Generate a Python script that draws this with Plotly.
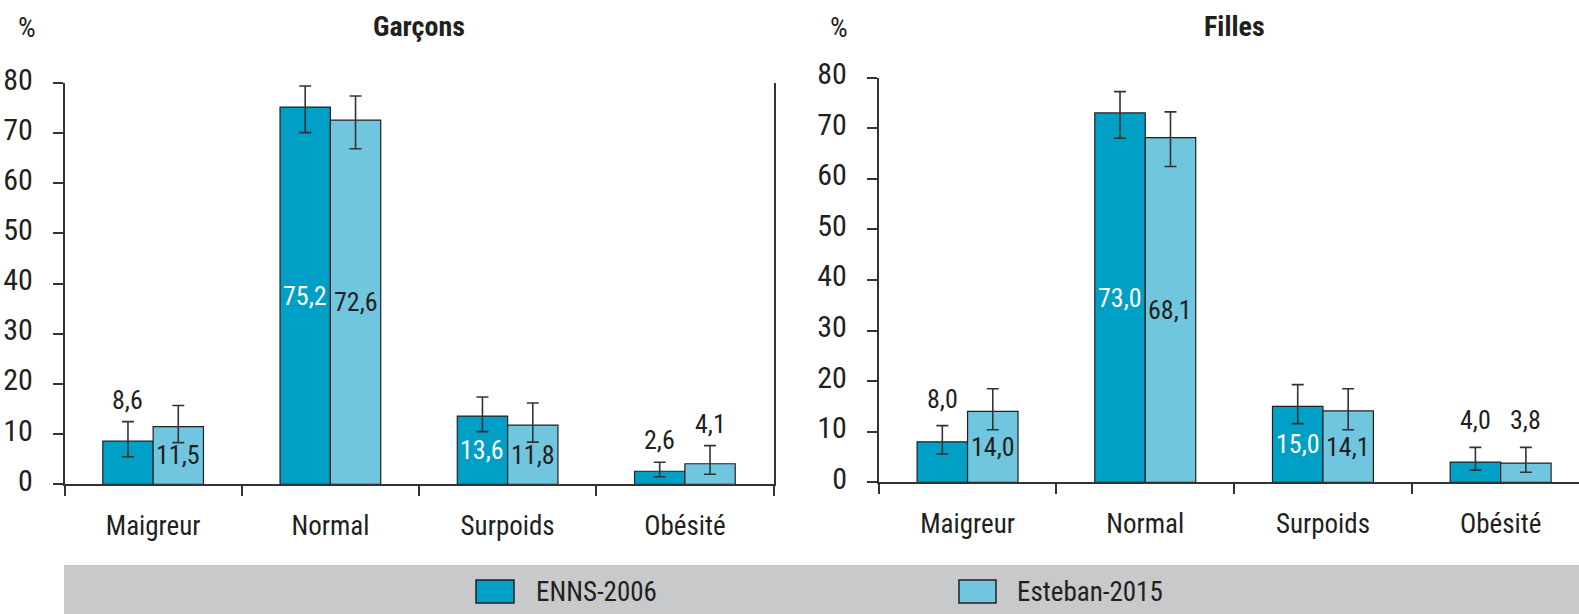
import plotly.graph_objects as go

# ---------------- data ----------------
categories = ["Maigreur", "Normal", "Surpoids", "Obésité"]
series_names = ["ENNS-2006", "Esteban-2015"]
panel_titles = ["Garçons", "Filles"]

garcons_enns = [8.6, 75.2, 13.6, 2.6]
garcons_enns_lo = [5.5, 70.1, 10.5, 1.5]
garcons_enns_hi = [12.5, 79.4, 17.4, 4.4]

garcons_esteban = [11.5, 72.6, 11.8, 4.1]
garcons_esteban_lo = [8.3, 66.9, 8.4, 2.0]
garcons_esteban_hi = [15.7, 77.4, 16.2, 7.7]

filles_enns = [8.0, 73.0, 15.0, 4.0]
filles_enns_lo = [5.6, 68.0, 11.6, 2.4]
filles_enns_hi = [11.2, 77.2, 19.3, 6.9]

filles_esteban = [14.0, 68.1, 14.1, 3.8]
filles_esteban_lo = [10.4, 62.4, 10.4, 2.0]
filles_esteban_hi = [18.5, 73.2, 18.5, 6.9]

y_ticks = [0, 10, 20, 30, 40, 50, 60, 70, 80]

# ---------------- style ----------------
W, H = 1579, 614
FONT = "Roboto Condensed, DejaVu Sans Condensed, sans-serif"
TXT = "#231f20"
AX = "#333333"
COLORS = ["#00a0c6", "#70c6df"]
BARGAP = 0.432
BARW = (1 - BARGAP) / 2
FS_LABEL = 26
FS_CAT = 27
FS_YTICK = 30
FS_TITLE = 28
FS_LEG = 27

def fmt(v):
    return f"{v:.1f}".replace(".", ",")

panels = [
    dict(title=panel_titles[0], xa="x", ya="y",
         series=[(garcons_enns, garcons_enns_lo, garcons_enns_hi),
                 (garcons_esteban, garcons_esteban_lo, garcons_esteban_hi)],
         above_shift=22),
    dict(title=panel_titles[1], xa="x2", ya="y2",
         series=[(filles_enns, filles_enns_lo, filles_enns_hi),
                 (filles_esteban, filles_esteban_lo, filles_esteban_hi)],
         above_shift=27),
]

fig = go.Figure()
annotations = []

for p in panels:
    for si, (vals, lo, hi) in enumerate(p["series"]):
        fig.add_trace(go.Bar(
            x=categories, y=vals, name=series_names[si],
            xaxis=p["xa"], yaxis=p["ya"],
            marker=dict(color=COLORS[si], line=dict(color=TXT, width=1.2)),
            error_y=dict(type="data", symmetric=False,
                         array=[h - v for h, v in zip(hi, vals)],
                         arrayminus=[v - l for v, l in zip(vals, lo)],
                         color=AX, thickness=1.6, width=6),
            showlegend=False,
        ))
        offset = (si - 0.5) * BARW
        for ci, v in enumerate(vals):
            if v >= 10:
                annotations.append(dict(
                    x=ci + offset, y=v / 2, xref=p["xa"], yref=p["ya"],
                    text=fmt(v), showarrow=False, xanchor="center", yanchor="middle",
                    font=dict(family=FONT, size=FS_LABEL,
                              color="#ffffff" if si == 0 else TXT)))
            else:
                annotations.append(dict(
                    x=ci + offset, y=hi[ci], xref=p["xa"], yref=p["ya"],
                    text=fmt(v), showarrow=False, xanchor="center", yanchor="middle",
                    yshift=p["above_shift"],
                    font=dict(family=FONT, size=FS_LABEL, color=TXT)))

# titles and % labels
def top_text(x_px, y_px, text, size):
    return dict(x=x_px / W, y=1 - y_px / H, xref="paper", yref="paper", text=text,
                showarrow=False, xanchor="center", yanchor="middle",
                font=dict(family=FONT, size=size, color=TXT))

annotations += [
    top_text(419, 26, "<b>" + panel_titles[0] + "</b>", FS_TITLE),
    top_text(1234, 26, "<b>" + panel_titles[1] + "</b>", FS_TITLE),
    top_text(27, 27, "%", FS_YTICK - 2),
    top_text(839, 27, "%", FS_YTICK - 2),
]

# legend band (manual)
shapes = [
    dict(type="rect", xref="paper", yref="paper", x0=64 / W, x1=1, y0=0, y1=1 - 565 / H,
         fillcolor="#c8c9cb", line=dict(width=0), layer="below"),
]
legend_items = [(476, 514, 534), (959, 996, 1015)]
for si, (bx0, bx1, tx) in enumerate(legend_items):
    shapes.append(dict(type="rect", xref="paper", yref="paper",
                       x0=bx0 / W, x1=bx1 / W, y0=1 - 603 / H, y1=1 - 580 / H,
                       fillcolor=COLORS[si], line=dict(color=TXT, width=1.5)))
    annotations.append(dict(x=tx / W, y=1 - 591.5 / H, xref="paper", yref="paper",
                            text=series_names[si], showarrow=False, xanchor="left",
                            yanchor="middle", font=dict(family=FONT, size=FS_LEG, color=TXT)))

xaxis_common = dict(type="category", showline=True, linecolor=AX, linewidth=1.5,
                    ticks="outside", tickson="boundaries", ticklen=10, tickwidth=1.5,
                    tickcolor=AX, showgrid=False, zeroline=False, automargin=False,
                    tickfont=dict(family=FONT, size=FS_CAT, color=TXT), ticklabelstandoff=17)
yaxis_common = dict(range=[0, 80], tickvals=y_ticks, showline=True, linecolor=AX,
                    linewidth=1.5, ticks="outside", ticklen=10, tickwidth=1.5, tickcolor=AX,
                    showgrid=False, zeroline=False, automargin=False,
                    tickfont=dict(family=FONT, size=FS_YTICK, color=TXT),
                    ticklabelstandoff=14, ticklabelshift=-4)

fig.update_layout(
    width=W, height=H, margin=dict(l=0, r=0, t=0, b=0, pad=0, autoexpand=False),
    paper_bgcolor="white", plot_bgcolor="white", showlegend=False,
    barmode="group", bargap=BARGAP, bargroupgap=0,
    xaxis=dict(xaxis_common, domain=[64.5 / W, 773.5 / W], range=[-0.5, 3.5], anchor="y"),
    xaxis2=dict(xaxis_common, domain=[878.7 / W, 1.0],
                range=[-0.5, -0.5 + (W - 878.7) / 177.7], anchor="y2"),
    yaxis=dict(yaxis_common, domain=[(H - 484.3) / H, (H - 83) / H], anchor="x", mirror=True),
    yaxis2=dict(yaxis_common, domain=[(H - 482.3) / H, (H - 77.5) / H], anchor="x2"),
    annotations=annotations, shapes=shapes,
)

fig.write_html("out.html")
